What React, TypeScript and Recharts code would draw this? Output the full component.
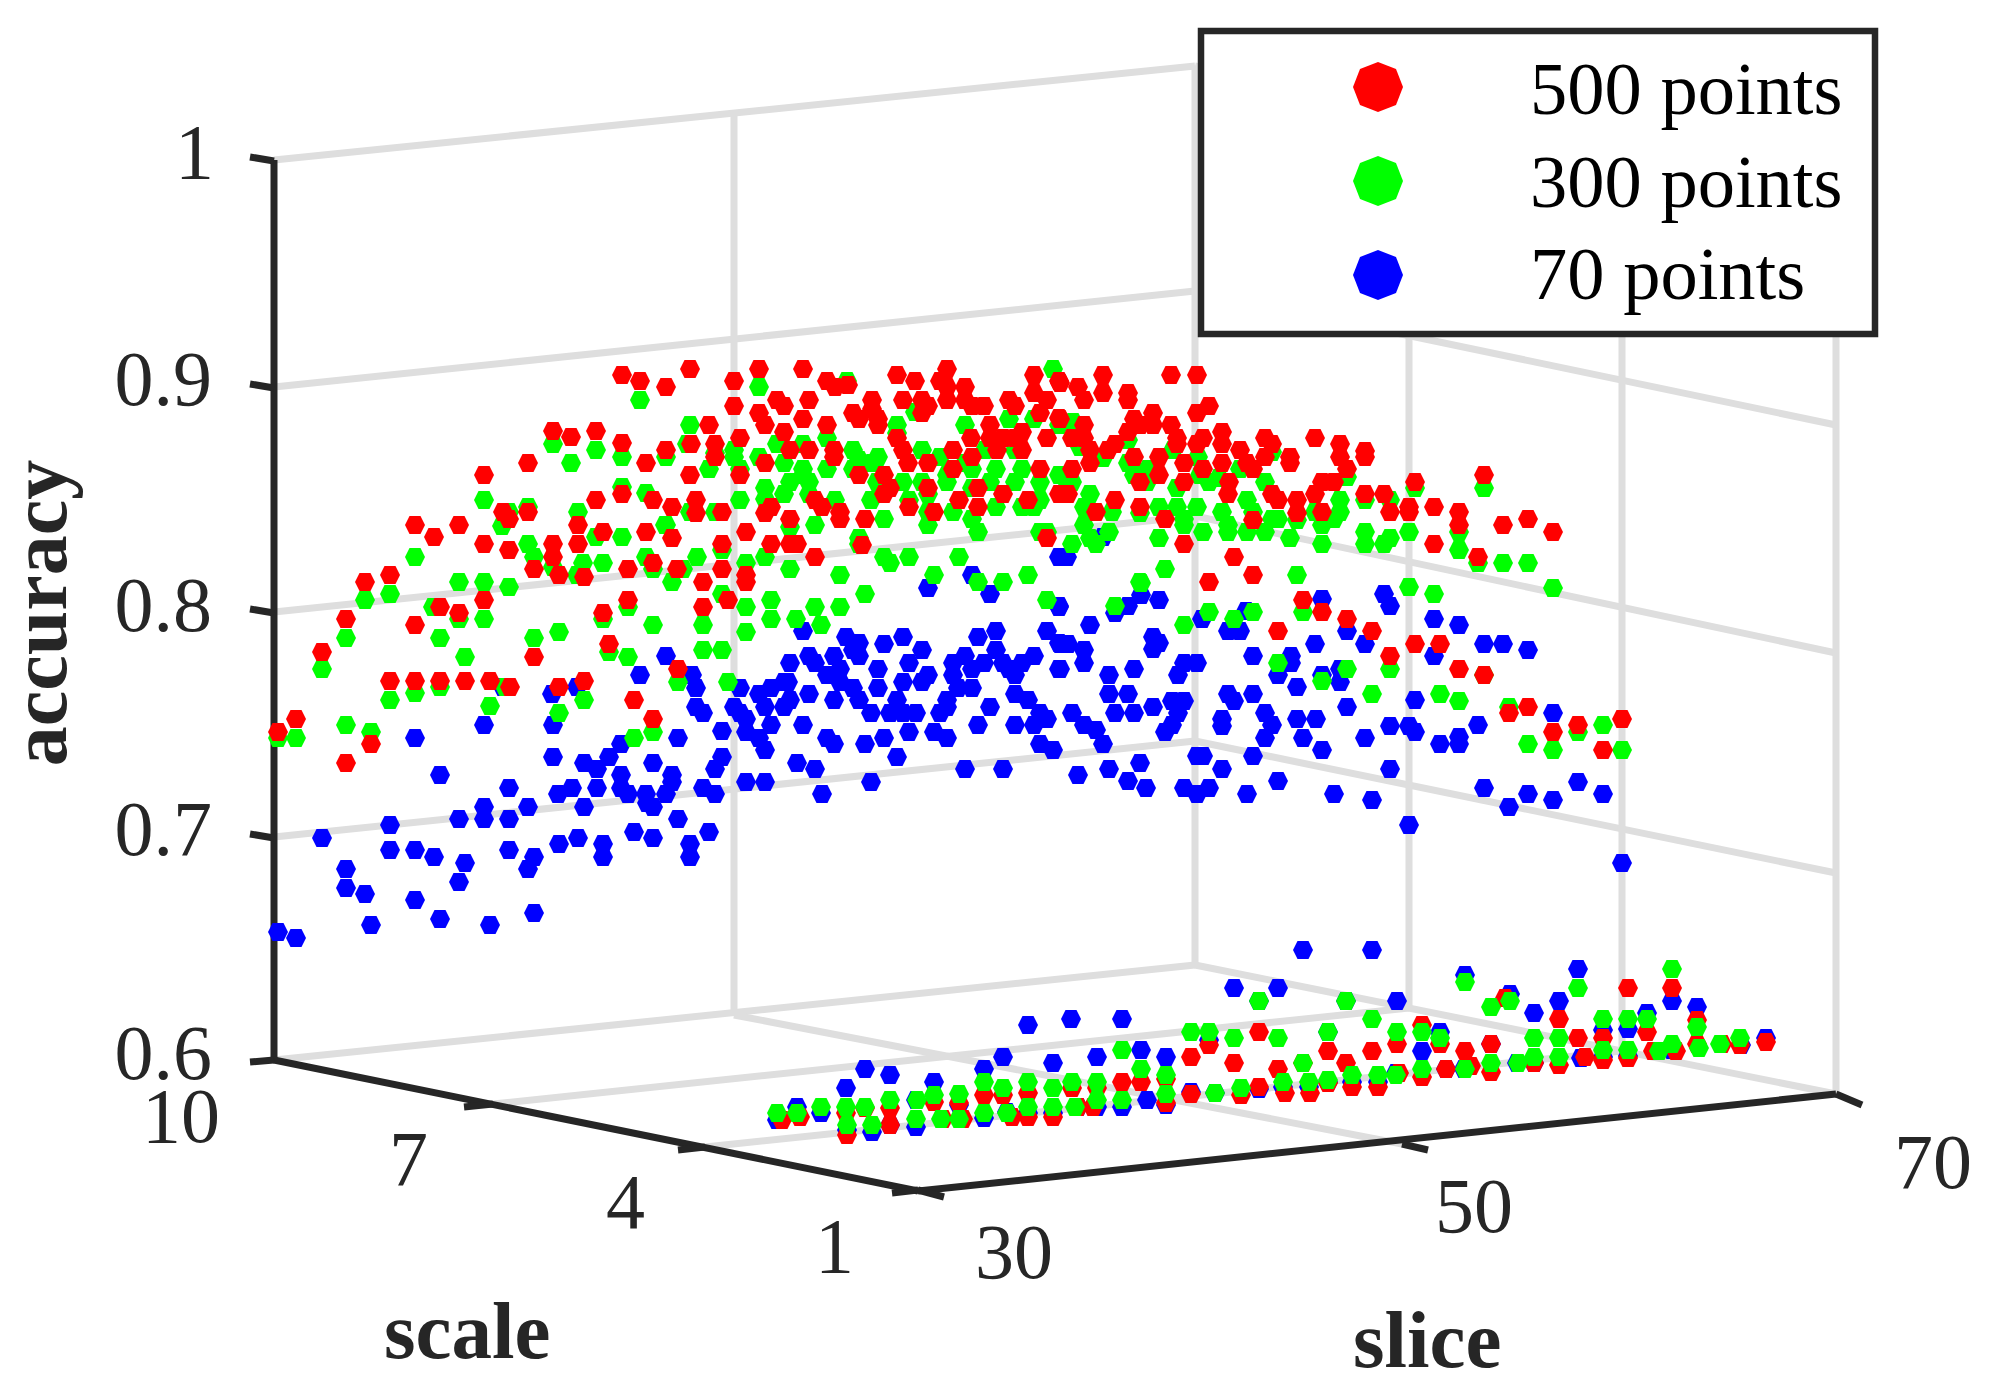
import { ScatterChart, Scatter, XAxis, YAxis, ReferenceLine } from "recharts"

// the cube is a 3D view, so every value is its position on the flat picture plane
type Pt = [number, number]

const red500: Pt[] = [
  [622,375],[640,381],[666,387],[553,431],[571,437],[596,431],[622,443],[528,463],[646,463],[666,450],[484,475],[596,500],[622,494],[653,500],[503,512],[509,519],[528,512],[578,525],[603,532],[646,532],[415,525],[434,537],[459,525],[484,544],[509,550],[553,544],[578,544],[553,557],[534,569],[559,575],[584,577],[628,569],[653,563],[365,582],[390,575],[440,607],[459,613],[484,600],[628,600],[603,613],[346,619],[415,625],[609,644],[322,652],[534,657],
  [390,681],[415,681],[440,681],[465,681],[490,681],[510,687],[559,687],[584,681],[634,700],[653,719],[296,719],[278,732],[371,744],[346,763],
  [690,369],[759,369],[803,369],[734,381],[827,381],[835,387],[848,385],[734,406],[777,400],[784,406],[809,400],[759,413],[803,419],[765,425],[709,425],[784,432],[827,425],[740,438],[691,444],[715,444],[715,457],[790,450],[809,450],[834,450],[834,457],[765,463],[690,475],[740,475],[672,507],[696,500],[696,513],[722,512],[771,507],[765,513],[815,500],[822,507],[840,512],[840,519],[790,519],[865,519],[746,532],[672,538],[722,544],[771,544],[790,544],[797,544],[815,557],[862,545],[722,569],[746,575],[746,582],[677,569],[703,582],[728,600],[703,607],[678,669],
  [897,375],[915,381],[947,369],[940,381],[947,387],[965,387],[947,400],[965,400],[972,406],[984,406],[903,400],[922,400],[928,406],[922,413],[872,400],[872,409],[853,413],[859,419],[878,419],[878,425],[1034,375],[1059,381],[1034,393],[1009,400],[1015,406],[1040,413],[1047,400],[1059,418],[990,425],[1022,432],[990,438],[1003,438],[1015,438],[971,438],[1047,438],[997,450],[1022,450],[903,450],[897,438],[908,463],[928,463],[953,450],[972,457],[953,469],[859,475],[884,475],[890,488],[884,494],[928,488],[978,488],[1040,469],[1003,494],[1059,494],[959,500],[978,507],[909,507],[934,512],[1028,500],[1047,538],
  [1103,375],[1171,375],[1197,375],[1103,393],[1128,393],[1128,400],[1060,383],[1078,387],[1084,400],[1060,419],[1084,425],[1134,419],[1153,413],[1140,425],[1153,425],[1128,432],[1171,425],[1177,438],[1177,444],[1197,413],[1209,406],[1203,438],[1197,444],[1222,432],[1222,444],[1240,450],[1247,463],[1253,469],[1265,438],[1272,444],[1265,457],[1290,457],[1290,463],[1315,438],[1340,444],[1340,457],[1365,451],[1365,457],[1347,469],[1322,482],[1334,482],[1315,494],[1297,500],[1297,513],[1272,494],[1278,500],[1253,520],[1134,457],[1159,457],[1184,463],[1203,469],[1222,463],[1090,450],[1090,463],[1108,450],[1115,444],[1072,438],[1084,438],[1072,469],[1159,475],[1140,482],[1184,482],[1229,482],[1228,494],[1068,494],[1060,494],[1115,500],[1096,512],[1140,507],[1165,519],[1184,544],[1234,557],[1253,575],[1209,582],[1322,512],[1365,494],[1384,494],[1390,512],[1409,507],[1409,512],[1434,507],[1415,482],[1459,512],[1459,525],[1434,544],
  [1303,600],[1322,612],[1347,619],[1372,631],[1278,631],[1390,656],[1415,644],[1440,644],[1459,669],
  [1484,475],[1503,525],[1528,519],[1553,532],[1478,557],[1484,675],[1528,707],[1509,713],[1553,732],[1578,725],[1622,719],[1603,750],
]

const green300: Pt[] = [
  [640,400],[553,444],[571,463],[596,450],[622,457],[666,457],[484,500],[622,487],[646,493],[528,507],[509,512],[502,526],[578,512],[596,537],[622,537],[665,525],[415,557],[528,544],[534,557],[553,567],[583,563],[577,575],[603,563],[646,557],[653,569],[459,582],[484,582],[509,587],[365,600],[390,594],[433,607],[459,619],[484,619],[628,607],[603,619],[346,638],[440,638],[534,638],[559,632],[653,625],[465,657],[628,657],[609,652],[322,669],
  [390,700],[415,693],[440,687],[490,706],[559,713],[584,700],[634,738],[653,732],[346,725],[371,732],[296,738],[278,738],[505,687],
  [690,425],[759,387],[847,381],[687,444],[715,453],[734,450],[734,457],[709,469],[740,469],[759,457],[777,444],[784,463],[803,444],[827,438],[803,469],[827,469],[765,488],[765,499],[740,500],[784,494],[790,482],[809,482],[809,494],[803,475],[690,512],[715,512],[835,500],[666,525],[790,527],[815,525],[722,550],[697,557],[765,557],[746,563],[672,582],[683,569],[790,569],[840,575],[722,594],[746,607],[771,600],[815,607],[840,607],[865,594],[771,619],[796,619],[821,625],[703,625],[746,632],[703,650],[722,650],[859,538],[859,544],[678,682],[728,682],
  [853,450],[859,460],[853,469],[872,463],[878,457],[877,482],[871,500],[884,519],[897,425],[897,433],[903,482],[922,482],[922,450],[915,412],[940,457],[947,475],[947,482],[909,500],[928,494],[928,512],[928,525],[953,512],[972,519],[978,532],[965,425],[972,469],[972,488],[965,463],[996,469],[990,482],[996,507],[985,450],[1009,419],[1034,419],[1015,450],[1022,469],[1015,482],[1040,482],[1022,507],[1034,507],[1040,500],[1053,369],[1059,475],[1059,425],[884,557],[890,563],[909,557],[959,557],[934,575],[978,582],[1003,582],[1028,575],[1047,600],[1040,532],[1047,532],
  [1073,422],[1080,447],[1103,458],[1128,440],[1128,463],[1134,469],[1134,475],[1148,469],[1147,482],[1173,450],[1198,457],[1200,475],[1209,482],[1219,478],[1240,469],[1265,482],[1272,452],[1347,477],[1067,482],[1072,482],[1090,494],[1084,507],[1112,512],[1140,513],[1159,507],[1177,488],[1177,507],[1197,507],[1184,519],[1184,525],[1222,512],[1228,525],[1228,532],[1247,500],[1253,512],[1247,532],[1265,532],[1272,519],[1278,519],[1203,532],[1084,525],[1090,538],[1096,544],[1109,532],[1072,544],[1159,538],[1165,569],[1140,582],[1297,575],[1290,538],[1297,520],[1315,512],[1322,525],[1334,519],[1340,500],[1340,512],[1322,544],[1365,500],[1365,532],[1365,544],[1390,500],[1390,538],[1384,544],[1409,532],[1415,488],
  [1409,587],[1434,594],[1115,606],[1141,583],[1184,625],[1209,612],[1234,619],[1253,612],[1278,663],[1303,612],[1322,681],[1347,669],[1372,694],[1390,669],[1440,694],[1459,701],
  [1484,488],[1459,532],[1459,550],[1478,563],[1503,563],[1528,563],[1553,588],[1484,675],[1509,707],[1528,744],[1553,750],[1578,732],[1603,725],[1622,750],
]

const blue70: Pt[] = [
  [640,675],[484,725],[552,694],[553,725],[577,687],[415,738],[621,744],[553,757],[609,757],[584,763],[597,769],[653,763],[440,775],[621,775],[509,788],[572,788],[558,794],[597,788],[621,788],[628,794],[646,794],[647,803],[653,807],[484,807],[528,807],[584,807],[390,825],[459,819],[484,819],[509,819],[322,838],[634,832],[653,838],[578,838],[559,844],[603,844],[390,850],[415,850],[434,857],[509,850],[534,857],[603,857],[465,863],[528,869],[346,869],[459,882],[346,888],[365,894],[415,900],[534,913],[440,919],[371,925],[490,925],[278,932],[296,938],[503,687],
  [972,575],[928,588],[990,594],[1059,557],[1059,607],[1103,537],[1067,557],
  [803,631],[846,637],[859,643],[853,650],[859,656],[884,644],[903,637],[922,650],[909,663],[878,669],[878,688],[903,682],[928,675],[922,682],[790,663],[809,656],[815,663],[834,656],[840,669],[827,675],[840,682],[853,688],[859,700],[834,700],[809,694],[788,682],[784,682],[771,688],[759,694],[740,688],[765,707],[784,707],[790,700],[734,707],[740,713],[746,719],[771,725],[803,725],[746,732],[759,738],[765,750],[722,731],[666,656],[692,675],[696,688],[696,707],[703,713],[678,738],[722,757],[715,769],[672,775],[672,782],[703,788],[715,794],[666,794],[746,782],[765,782],[797,763],[815,769],[822,794],[871,782],[827,738],[834,744],[865,744],[884,738],[897,757],[909,732],[871,713],[890,713],[897,700],[903,713],[916,713],[934,732],[947,738],[940,713],[947,700],[947,707],[978,725],[990,707],[1015,725],[1034,725],[1040,713],[1047,719],[1015,694],[1028,700],[1040,744],[1053,750],[965,769],[1003,769],[978,637],[996,631],[1047,631],[1059,643],[1059,669],[996,650],[953,663],[965,656],[984,663],[972,669],[953,675],[958,688],[972,688],[1003,663],[1009,669],[1015,675],[1022,663],[1034,656],[678,819],[709,832],[690,844],[690,857],
  [1059,606],[1141,595],[1128,606],[1115,613],[1159,600],[1090,625],[1153,637],[1159,643],[1153,649],[1202,619],[1228,631],[1240,631],[1246,611],[1322,599],[1384,594],[1390,606],[1347,631],[1365,644],[1315,644],[1253,656],[1291,656],[1291,663],[1278,675],[1297,687],[1322,675],[1340,669],[1340,682],[1434,656],[1434,619],[1459,625],[1068,644],[1060,644],[1084,650],[1084,663],[1060,669],[1109,675],[1134,669],[1109,694],[1128,694],[1115,713],[1134,713],[1153,707],[1072,713],[1084,725],[1096,730],[1103,744],[1165,732],[1172,725],[1178,713],[1172,701],[1184,701],[1178,675],[1184,663],[1197,663],[1222,719],[1222,726],[1228,694],[1234,701],[1253,694],[1265,713],[1272,725],[1265,738],[1297,719],[1316,719],[1303,738],[1322,750],[1347,707],[1365,738],[1390,726],[1409,726],[1415,732],[1440,744],[1459,737],[1459,744],[1415,700],[1140,763],[1109,769],[1078,775],[1128,781],[1146,788],[1197,756],[1203,756],[1222,769],[1184,788],[1209,788],[1197,794],[1253,756],[1278,781],[1247,794],[1334,794],[1372,800],[1390,769],[1409,825],
  [1484,644],[1503,644],[1528,650],[1478,725],[1553,713],[1484,788],[1509,807],[1528,794],[1553,800],[1578,782],[1603,794],[1622,863],
]

// the low cluster near the floor of the cube
const floorBlue: Pt[] = [
  [865,1069],[890,1075],[846,1088],[934,1082],[984,1069],[1003,1057],[1028,1025],[1071,1019],[1122,1019],[1234,988],[1053,1063],[1097,1057],[1141,1050],[1166,1057],[1209,1040],[797,1107],[777,1120],[821,1113],[847,1130],[872,1132],[890,1125],[916,1127],[984,1118],[1028,1113],[1053,1113],[1078,1107],[1097,1107],[1122,1107],[1147,1100],[1166,1105],[1191,1092],[1215,1093],[916,1100],[959,1105],[1007,1112],
  [1303,950],[1372,950],[1278,988],[1259,1001],[1346,1001],[1397,1001],[1465,975],[1510,994],[1578,969],[1559,1001],[1534,1013],[1647,1013],[1672,1001],[1697,1007],[1603,1030],[1628,1029],[1328,1032],[1440,1032],[1422,1051],[1491,1044],[1259,1089],[1283,1087],[1309,1087],[1328,1082],[1352,1082],[1378,1082],[1396,1073],[1446,1069],[1464,1069],[1517,1063],[1534,1063],[1581,1058],[1603,1057],[1628,1056],[1672,1050],[1741,1045],[1766,1038],
]

const floorRed: Pt[] = [
  [1191,1057],[1209,1045],[1234,1063],[1122,1082],[1141,1082],[984,1095],[1003,1095],[1028,1093],[1072,1088],[1097,1088],[1166,1079],[1191,1094],[1241,1095],[846,1113],[865,1108],[890,1108],[934,1102],[959,1103],[782,1120],[800,1117],[847,1135],[890,1125],[943,1119],[963,1119],[1012,1117],[1028,1117],[1053,1117],[1078,1107],[1093,1107],[1166,1103],
  [1259,1032],[1328,1051],[1372,1051],[1397,1044],[1422,1025],[1440,1044],[1465,1051],[1491,1044],[1505,998],[1559,1019],[1578,1038],[1603,1038],[1628,988],[1647,1032],[1672,988],[1697,1020],[1278,1069],[1303,1063],[1346,1063],[1422,1077],[1446,1069],[1471,1066],[1491,1072],[1534,1063],[1559,1065],[1585,1057],[1603,1060],[1628,1058],[1653,1051],[1676,1051],[1697,1044],[1722,1044],[1740,1045],[1766,1042],[1259,1087],[1285,1093],[1310,1093],[1328,1083],[1352,1087],[1378,1087],[1399,1073],
]

const floorGreen: Pt[] = [
  [777,1113],[797,1113],[821,1107],[846,1107],[865,1107],[890,1100],[934,1095],[959,1094],[984,1082],[1003,1088],[1028,1082],[1053,1088],[1072,1082],[1097,1082],[1122,1050],[1141,1069],[1166,1075],[1191,1032],[1209,1032],[1234,1038],[847,1125],[872,1125],[916,1119],[941,1119],[959,1119],[984,1113],[1007,1113],[1028,1107],[1053,1107],[1075,1107],[1097,1100],[1122,1100],[1166,1094],[1215,1093],[1241,1088],[917,1100],
  [1465,982],[1491,1007],[1510,1001],[1578,988],[1672,969],[1603,1019],[1628,1019],[1647,1019],[1697,1027],[1372,1019],[1346,1001],[1397,1032],[1422,1032],[1440,1038],[1328,1032],[1278,1038],[1534,1038],[1559,1038],[1534,1057],[1559,1057],[1603,1050],[1628,1050],[1672,1044],[1659,1051],[1699,1048],[1720,1044],[1740,1038],[1422,1069],[1465,1069],[1491,1063],[1518,1063],[1303,1063],[1259,1001],[1283,1082],[1309,1082],[1328,1080],[1352,1075],[1378,1075],[1396,1075],
]

// grid and box of the cube, as [x1, y1, x2, y2] on the same plane
const gridLines = [
  [274,160,1195,66],[274,387,1195,291],[274,612,1195,516],[274,837,1195,741],[274,1060,1195,965],
  [1195,66,1836,202],[1195,291,1836,425],[1195,516,1836,653],[1195,741,1836,873],[1195,965,1836,1094],
  [734,113,734,1015],[1195,66,1195,965],[1409,111,1409,1008],[1622,157,1622,1051],[1836,202,1836,1094],
  [493,1104,1409,1008],[705,1147,1622,1051],[734,1015,1402,1144],
]
const axisLines = [
  [274,160,274,1062],[274,1060,918,1191],[918,1191,1836,1094],
  [250,157,274,161],[250,384,274,388],[250,609,274,613],[250,834,274,838],[250,1062,274,1060],
  [464,1107,493,1104],[678,1150,705,1147],[892,1193,918,1190],[918,1190,944,1197],[1402,1144,1428,1150],[1836,1094,1862,1105],
]

const tickLabels = ["1", "0.9", "0.8", "0.7", "0.6", "10", "7", "4", "1", "30", "50", "70"]
const tickX = [214, 212, 212, 212, 212, 220, 428, 645, 854, 1053, 1513, 1972]
const tickY = [178, 405, 631, 855, 1079, 1142, 1185, 1228, 1272, 1278, 1232, 1188]

const legendLabels = ["500 points", "300 points", "70 points"]
const legendColors = ["#ff0000", "#00ff00", "#0000ff"]
const legendY = [87, 181, 275]
const legendBaseline = [114, 207, 299]

const SERIF = "'Liberation Serif', 'Times New Roman', serif"
const DARK = "#262626"
const GRID = "#dedede"

const toRows = (pts: Pt[]) => pts.map(([x, y]) => ({ x, y }))

const Hex = ({ cx, cy, fill }: any) => (
  <polygon
    fill={fill}
    points={`${cx - 10},${cy} ${cx - 5.5},${cy - 9} ${cx + 5.5},${cy - 9} ${cx + 10},${cy} ${cx + 5.5},${cy + 9} ${cx - 5.5},${cy + 9}`}
  />
)

const octagon = (cx: number, cy: number, r: number) =>
  [[0, -1], [0.72, -0.72], [1, 0], [0.72, 0.72], [0, 1], [-0.72, 0.72], [-1, 0], [-0.72, -0.72]]
    .map(([a, b]) => `${cx + a * r},${cy + b * r}`)
    .join(" ")

function segLine(l: number[], stroke: string, width: number, key: string) {
  return (
    <ReferenceLine
      key={key}
      segment={[{ x: l[0], y: l[1] }, { x: l[2], y: l[3] }]}
      stroke={stroke}
      strokeWidth={width}
      ifOverflow="visible"
    />
  )
}

export default function App() {
  return (
    <div style={{ position: "absolute", left: 0, top: 0, width: 1999, height: 1397, background: "#fff" }}>
      <ScatterChart width={1999} height={1397} margin={{ top: 0, right: 0, bottom: 0, left: 0 }}>
        <XAxis type="number" dataKey="x" domain={[0, 1999]} hide />
        <YAxis type="number" dataKey="y" domain={[0, 1397]} reversed hide />
        {gridLines.map((l, i) => segLine(l, GRID, 7, `g${i}`))}
        {axisLines.map((l, i) => segLine(l, DARK, 7, `a${i}`))}
        <Scatter name="70 points" data={toRows(blue70)} fill="#0000ff" shape={Hex} isAnimationActive={false} />
        <Scatter name="300 points" data={toRows(green300)} fill="#00ff00" shape={Hex} isAnimationActive={false} />
        <Scatter name="500 points" data={toRows(red500)} fill="#ff0000" shape={Hex} isAnimationActive={false} />
        <Scatter data={toRows(floorBlue)} fill="#0000ff" shape={Hex} isAnimationActive={false} />
        <Scatter data={toRows(floorRed)} fill="#ff0000" shape={Hex} isAnimationActive={false} />
        <Scatter data={toRows(floorGreen)} fill="#00ff00" shape={Hex} isAnimationActive={false} />

        <g fontFamily={SERIF}>
          {tickLabels.map((t, i) => (
            <text key={i} x={tickX[i]} y={tickY[i]} textAnchor="end" fontSize={78} fill={DARK}>{t}</text>
          ))}
          <text x={384} y={1358} fontSize={81} fontWeight="bold" fill={DARK}>scale</text>
          <text x={1353} y={1367} fontSize={81} fontWeight="bold" fill={DARK}>slice</text>
          <text x={66} y={613} fontSize={80} fontWeight="bold" fill={DARK} textAnchor="middle" transform="rotate(-90 66 613)">accuracy</text>
        </g>
      </ScatterChart>
      {/* legend sits over the grid lines, so it gets its own layer */}
      <svg width={1999} height={1397} style={{ position: "absolute", left: 0, top: 0, pointerEvents: "none" }} fontFamily={SERIF}>
        <rect x={1201} y={31} width={674} height={303} fill="#fff" stroke={DARK} strokeWidth={6.5} />
        {legendLabels.map((t, i) => (
          <g key={t}>
            <polygon points={octagon(1378, legendY[i], 25)} fill={legendColors[i]} />
            <text x={1530} y={legendBaseline[i]} fontSize={74.5} fill="#000">{t}</text>
          </g>
        ))}
      </svg>
    </div>
  )
}
